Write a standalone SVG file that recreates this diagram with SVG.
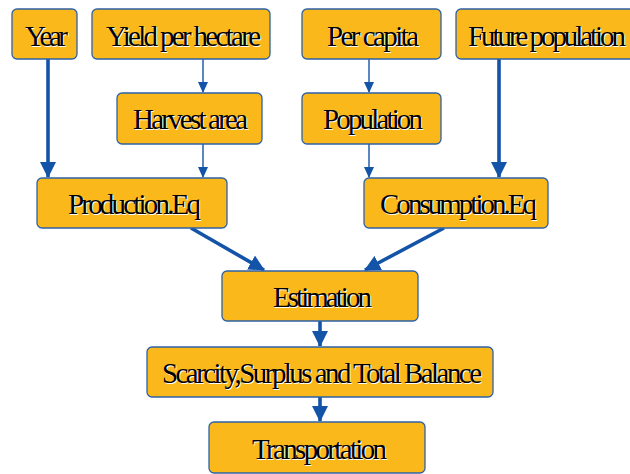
<svg xmlns="http://www.w3.org/2000/svg" width="630" height="474" viewBox="0 0 630 474">
<style>
.box{fill:#FBB81B;stroke:#2E62A6;stroke-width:1.3}
.sh{fill:#ffffff}
.fg{fill:#000000}
.thick{stroke:#1454A8;stroke-width:3.6;fill:none}
.thin{stroke:#1454A8;stroke-width:1.4;fill:none}
</style>
<defs>
<marker id="big" markerUnits="userSpaceOnUse" markerWidth="16" markerHeight="16" refX="15" refY="8" orient="auto" viewBox="0 0 16 16">
<path d="M0,0 L16,8 L0,16 Z" fill="#1454A8"/>
</marker>
<marker id="small" markerUnits="userSpaceOnUse" markerWidth="11" markerHeight="10" refX="10" refY="5" orient="auto" viewBox="0 0 11 10">
<path d="M0,0 L11,5 L0,10 Z" fill="#1454A8"/>
</marker>
</defs>
<g id="connectors">
<line class="thick" x1="48" y1="59" x2="48" y2="177" marker-end="url(#big)"/>
<line class="thin" x1="203" y1="59" x2="203" y2="92" marker-end="url(#small)"/>
<line class="thin" x1="203" y1="144" x2="203" y2="177" marker-end="url(#small)"/>
<line class="thin" x1="369" y1="59" x2="369" y2="92" marker-end="url(#small)"/>
<line class="thin" x1="369" y1="144" x2="369" y2="177" marker-end="url(#small)"/>
<line class="thick" x1="499" y1="59" x2="499" y2="177" marker-end="url(#big)"/>
<line class="thick" x1="191" y1="228" x2="264" y2="270" marker-end="url(#big)"/>
<line class="thick" x1="444" y1="228" x2="365" y2="270" marker-end="url(#big)"/>
<line class="thick" x1="320" y1="321" x2="320" y2="346" marker-end="url(#big)"/>
<line class="thick" x1="320" y1="397" x2="320" y2="421" marker-end="url(#big)"/>
</g>
<g font-family="Liberation Serif, Times New Roman, serif" font-size="29">
<g id="year">
<rect class="box" x="12" y="9" width="65" height="50" rx="5"/>
<text class="sh" x="26" y="47" textLength="43" lengthAdjust="spacing">Year</text>
<text class="fg" x="25" y="46" textLength="43" lengthAdjust="spacing">Year</text>
</g>
<g id="yield">
<rect class="box" x="92" y="9" width="178" height="50" rx="5"/>
<text class="sh" x="107" y="47" textLength="155" lengthAdjust="spacing">Yield per hectare</text>
<text class="fg" x="106" y="46" textLength="155" lengthAdjust="spacing">Yield per hectare</text>
</g>
<g id="percapita">
<rect class="box" x="302" y="9" width="139" height="50" rx="5"/>
<text class="sh" x="328" y="47" textLength="92" lengthAdjust="spacing">Per capita</text>
<text class="fg" x="327" y="46" textLength="92" lengthAdjust="spacing">Per capita</text>
</g>
<g id="future">
<rect class="box" x="456" y="9" width="190" height="50" rx="5"/>
<text class="sh" x="469" y="47" textLength="158" lengthAdjust="spacing">Future population</text>
<text class="fg" x="468" y="46" textLength="158" lengthAdjust="spacing">Future population</text>
</g>
<g id="harvest">
<rect class="box" x="117" y="93" width="145" height="51" rx="5"/>
<text class="sh" x="134" y="130" textLength="115" lengthAdjust="spacing">Harvest area</text>
<text class="fg" x="133" y="129" textLength="115" lengthAdjust="spacing">Harvest area</text>
</g>
<g id="population">
<rect class="box" x="302" y="93" width="139" height="51" rx="5"/>
<text class="sh" x="324" y="130" textLength="100" lengthAdjust="spacing">Population</text>
<text class="fg" x="323" y="129" textLength="100" lengthAdjust="spacing">Population</text>
</g>
<g id="production">
<rect class="box" x="37" y="178" width="190" height="50" rx="5"/>
<text class="sh" x="69" y="215" textLength="133" lengthAdjust="spacing">Production.Eq</text>
<text class="fg" x="68" y="214" textLength="133" lengthAdjust="spacing">Production.Eq</text>
</g>
<g id="consumption">
<rect class="box" x="364" y="178" width="184" height="50" rx="5"/>
<text class="sh" x="381" y="215" textLength="157" lengthAdjust="spacing">Consumption.Eq</text>
<text class="fg" x="380" y="214" textLength="157" lengthAdjust="spacing">Consumption.Eq</text>
</g>
<g id="estimation">
<rect class="box" x="222" y="271" width="196" height="50" rx="5"/>
<text class="sh" x="274" y="308" textLength="99" lengthAdjust="spacing">Estimation</text>
<text class="fg" x="273" y="307" textLength="99" lengthAdjust="spacing">Estimation</text>
</g>
<g id="scarcity">
<rect class="box" x="147" y="347" width="346" height="50" rx="5"/>
<text class="sh" x="163" y="384" textLength="320" lengthAdjust="spacing">Scarcity,Surplus and Total Balance</text>
<text class="fg" x="162" y="383" textLength="320" lengthAdjust="spacing">Scarcity,Surplus and Total Balance</text>
</g>
<g id="transportation">
<rect class="box" x="209" y="422" width="216" height="51" rx="5"/>
<text class="sh" x="253" y="460" textLength="135" lengthAdjust="spacing">Transportation</text>
<text class="fg" x="252" y="459" textLength="135" lengthAdjust="spacing">Transportation</text>
</g>
</g>
</svg>
